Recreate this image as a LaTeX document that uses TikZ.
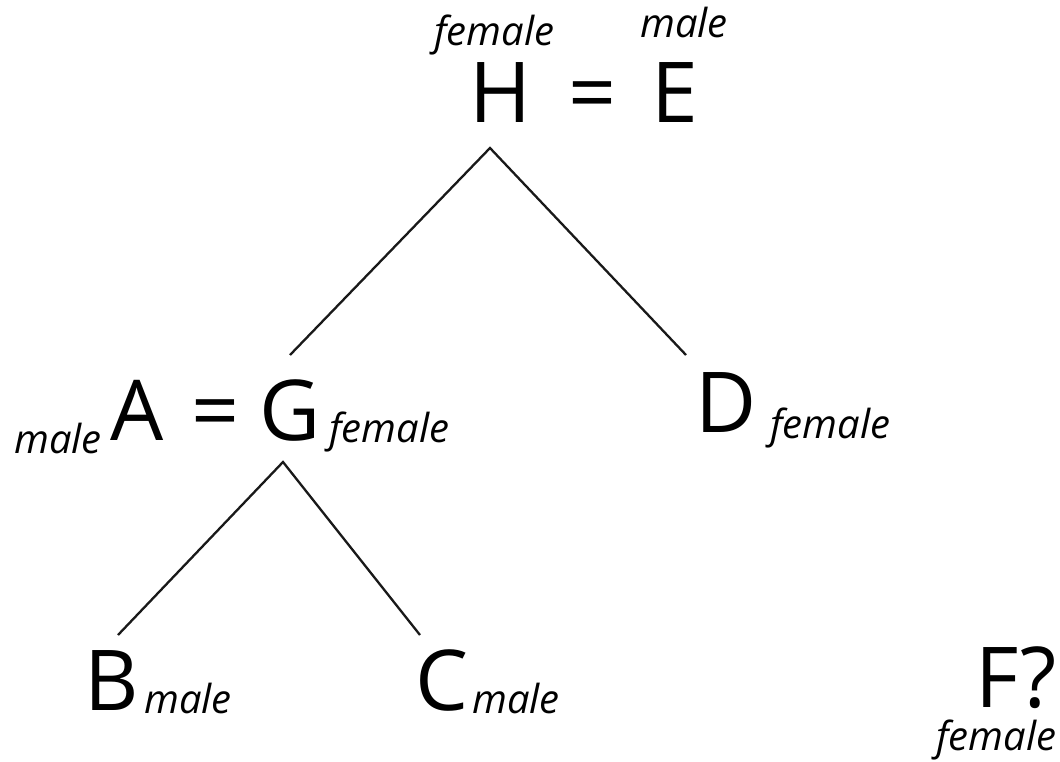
\documentclass[tikz,border=0pt]{standalone}
\usepackage{fontspec}
\setmainfont{Open Sans}
\begin{document}
\begin{tikzpicture}[x=1pt,y=-1pt,
  big/.style={inner sep=0pt,font=\fontsize{84}{84}\selectfont},
  lab/.style={inner sep=0pt,anchor=base west,font=\fontsize{40}{40}\selectfont\itshape},
  link/.style={line width=2.3pt,black!90}]
\useasboundingbox (0,0) rectangle (1060,762);
% top couple
\node[big,anchor=base] (H) at (500.5,123) {H};
\node[big,anchor=base] (eq1) at (593,123) {=};
\node[big,anchor=base] (E) at (675,123) {E};
\node[lab] (Hs) at (434,46) {female};
\node[lab] (Es) at (640,38) {male};
% middle row
\node[big,anchor=base] (A) at (137.5,440) {A};
\node[big,anchor=base] (eq2) at (215.5,440) {=};
\node[big,anchor=base] (G) at (290,440) {G};
\node[lab] (As) at (14,453) {male};
\node[lab] (Gs) at (329,442) {female};
\node[big,anchor=base] (D) at (726,432) {D};
\node[lab] (Ds) at (770,438) {female};
% bottom row
\node[big,anchor=base] (B) at (112,710) {B};
\node[lab] (Bs) at (144,713) {male};
\node[big,anchor=base] (C) at (442,710) {C};
\node[lab] (Cs) at (472,713) {male};
\node[big,anchor=base west] (F) at (975,707) {F?};
\node[lab] (Fs) at (936,750) {female};
% connector ends
\coordinate (top) at (490,148);
\coordinate (Aend) at (290,355);
\coordinate (Dend) at (686,355);
\coordinate (mid) at (283,462);
\coordinate (Bend) at (118,635);
\coordinate (Cend) at (420,635);
\draw[link] (Aend) -- (top) -- (Dend);
\draw[link] (Bend) -- (mid) -- (Cend);
\end{tikzpicture}
\end{document}
